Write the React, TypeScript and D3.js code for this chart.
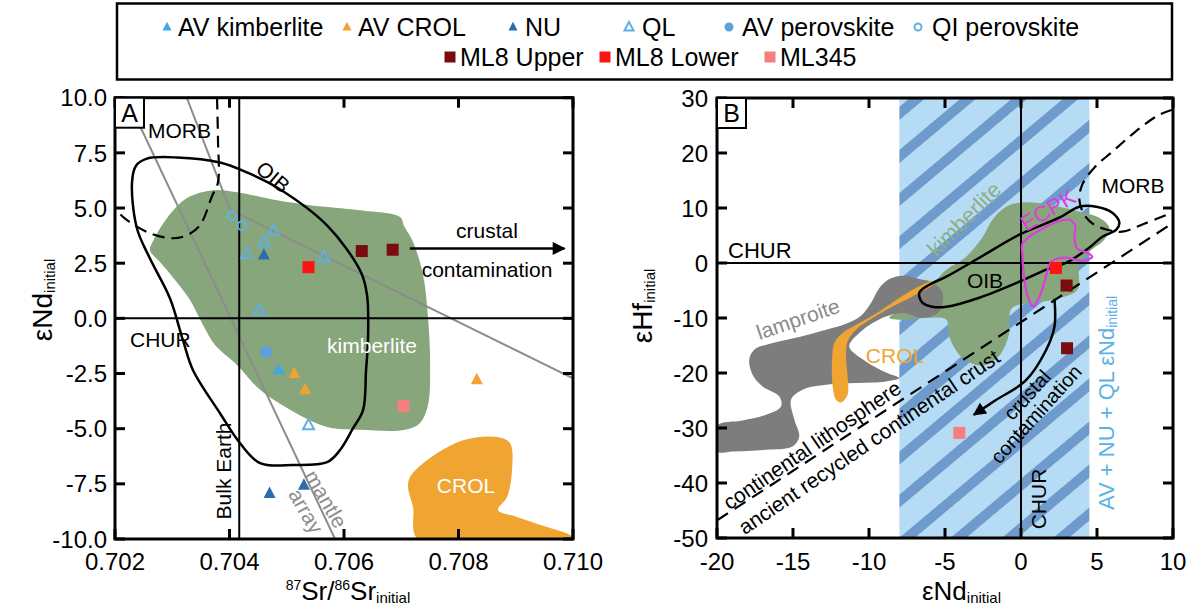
import React from "react";
import * as d3 from "d3";

type P = [number, number];

// ---------------- Panel A (87Sr/86Sr vs eNd) ----------------
const srTicks = [0.702, 0.704, 0.706, 0.708, 0.71];
const ndTicksA = [10, 7.5, 5, 2.5, 0, -2.5, -5, -7.5, -10];
const bulkEarthSr = 0.70417;
const churNdA = 0;

const avKimberliteA: P[] = [[0.70486, -2.33]];
const avCrolA: P[] = [[0.70513, -2.5], [0.70532, -3.23], [0.70832, -2.78]];
const nuA: P[] = [[0.7046, 2.87], [0.7047, -7.93], [0.7053, -7.56]];
const qlA: P[] = [[0.70477, 3.98], [0.7046, 3.45], [0.7043, 2.93], [0.70565, 2.77], [0.70452, 0.36], [0.70538, -4.84]];
const avPerovskiteA: P[] = [[0.70464, -1.52]];
const qiPerovskiteA: P[] = [[0.70404, 4.66], [0.70422, 4.2]];
const ml8UpperA: P[] = [[0.70631, 3.05], [0.70685, 3.11]];
const ml8LowerA: P[] = [[0.70538, 2.32]];
const ml345A: P[] = [[0.70704, -3.98]];

const kimberliteFieldA: P[] = [
  [0.702611, 3.09], [0.702664, 3.5], [0.702908, 4.54], [0.703258, 5.45], [0.703712, 5.81],
  [0.704131, 5.72], [0.70483, 5.35], [0.705407, 5.13], [0.70628, 4.9], [0.706979, 4.59],
  [0.707049, 4.18], [0.707206, 3.46], [0.707381, 1.96], [0.707468, 0.02], [0.707503, -1.88],
  [0.707468, -3.92], [0.707328, -4.74], [0.707066, -5.05], [0.70628, -5.05], [0.705704, -4.92],
  [0.705057, -4.14], [0.704533, -3.24], [0.704131, -2.11], [0.703747, -1.21], [0.703537, -0.3],
  [0.70331, 0.83], [0.703048, 1.74], [0.702786, 2.55],
];
const crolFieldA: P[] = [
  [0.707153, -7.19], [0.70745, -6.43], [0.708079, -5.52], [0.708673, -5.38], [0.7089, -5.66],
  [0.708935, -6.88], [0.708848, -8.1], [0.70869, -8.69], [0.709022, -9.0], [0.709546, -9.46],
  [0.709948, -9.82], [0.71, -10], [0.707293, -10], [0.707206, -8.55], [0.707119, -7.65],
];
const oibFieldA: P[] = [
  [0.702559, 7.24], [0.703083, 7.29], [0.703834, 7.06], [0.704306, 6.61], [0.70483, 5.93],
  [0.705704, 4.21], [0.706298, 2.08], [0.706403, 1.04], [0.70642, -0.9], [0.706385, -2.35],
  [0.706333, -4.16], [0.706158, -4.98], [0.705931, -5.97], [0.705704, -6.52], [0.70511, -6.65],
  [0.704533, -6.56], [0.704184, -5.66], [0.703834, -4.3], [0.703363, -2.35], [0.703188, -1.0],
  [0.702961, 0.9], [0.702611, 2.71], [0.702384, 4.07], [0.702297, 6.15], [0.702367, 6.92],
];
const morbFieldA: P[] = [
  [0.703782, 10], [0.703799, 8.07], [0.703799, 6.17], [0.703695, 5.54], [0.703485, 4.22],
  [0.703258, 3.77], [0.703013, 3.63], [0.702611, 3.86], [0.70221, 4.45], [0.702017, 4.9],
];
const mantleArrayLine1: P[] = [[0.702203, 10], [0.705843, -10]];
const mantleArrayLine2: P[] = [[0.703253, 10], [0.704009, 4.93], [0.71, -2.72]];
const crustalArrowA: P[] = [[0.70715, 3.17], [0.70985, 3.17]];

// ---------------- Panel B (eNd vs eHf) ----------------
const ndTicksB = [-20, -15, -10, -5, 0, 5, 10];
const hfTicks = [30, 20, 10, 0, -10, -20, -30, -40, -50];
const avNdRange: P = [-8.0, 4.5];

const ml8UpperB: P[] = [[3.0, -4.1], [3.03, -15.5]];
const ml8LowerB: P[] = [[2.3, -0.9]];
const ml345B: P[] = [[-4.06, -30.9]];

const lamproiteField: P[] = [
  [-20, -29.58], [-18.32, -28.62], [-16.78, -27.58], [-15.79, -26.07], [-15.9, -24.25],
  [-17.0, -22.44], [-17.66, -20.31], [-17.88, -17.58], [-17.55, -15.76], [-16.34, -14.55],
  [-14.59, -13.45], [-12.83, -12.13], [-11.51, -11.04], [-10.53, -9.58], [-9.87, -7.27],
  [-9.32, -4.55], [-8.66, -2.91], [-7.79, -2.31], [-6.69, -2.91], [-5.82, -3.53],
  [-5.16, -5.45], [-5.38, -8.8], [-6.47, -10.0], [-7.79, -9.09], [-8.88, -9.71],
  [-9.76, -10.91], [-10.64, -12.73], [-11.3, -15.16], [-10.2, -17.89], [-8.88, -19.89],
  [-8.01, -20.91], [-8.88, -21.53], [-10.86, -21.82], [-12.83, -22.13], [-14.37, -23.04],
  [-15.13, -24.85], [-14.91, -28.49], [-14.59, -31.53], [-15.03, -33.35], [-16.78, -33.95],
  [-18.97, -34.25], [-20, -34.25],
];
const crolFieldB: P[] = [
  [-12.17, -24.85], [-12.39, -22.44], [-12.43, -17.58], [-12.28, -14.55], [-11.74, -12.73],
  [-10.64, -10.91], [-9.32, -8.8], [-8.01, -6.36], [-6.91, -4.55], [-5.82, -3.22],
  [-5.7, -3.64], [-7.13, -6.07], [-8.45, -7.89], [-9.76, -10.0], [-10.86, -12.13],
  [-11.41, -14.25], [-11.51, -16.98], [-11.41, -20.62], [-11.41, -23.95], [-11.84, -25.35],
];
const kimberliteFieldB: P[] = [
  [-8.66, -9.95], [-7.35, -7.58], [-5.7, -3.4], [-4.91, -1.22], [-3.75, 0.8], [-2.62, 4.3],
  [-1.82, 8.1], [-0.97, 10.24], [-0.11, 10.96], [1.01, 10.96], [2.52, 10.24], [3.84, 9.33],
  [5.15, 8.24], [5.81, 6.42], [5.48, 4.24], [4.49, 2.05], [3.84, -0.31], [3.71, -4.85],
  [2.06, -6.67], [-0.57, -8.13], [-0.77, -10.31], [-0.77, -12.67], [-1.43, -16.85],
  [-2.61, -18.67], [-3.93, -17.05], [-4.72, -13.4], [-4.91, -10.31], [-6.03, -9.95], [-8.01, -10.31],
];
const oibFieldB: P[] = [
  [-6.69, -5.4], [-6.49, -7.22], [-5.84, -7.95], [-4.91, -7.95], [-2.74, -6.31], [-0.11, -3.4],
  [1.66, -1.22], [2.98, 0.05], [4.49, 2.78], [5.35, 4.78], [6.27, 6.05], [6.47, 7.33],
  [6.01, 9.15], [4.95, 10.24], [3.84, 10.24], [2.52, 8.24], [-0.11, 5.15], [-2.74, 0.96],
  [-4.91, -2.49], [-6.03, -3.95],
];
const ecpkField: P[] = [
  [0.09, 3.51], [0.74, 5.15], [1.53, 6.42], [2.39, 7.51], [3.18, 7.87], [3.57, 6.78],
  [3.51, 4.6], [3.7, 2.6], [4.36, 1.87], [4.69, 1.15], [4.16, 0.42], [2.85, 0.96],
  [1.99, 0.24], [1.66, -2.31], [1.27, -5.76], [0.81, -7.95], [0.41, -5.76], [0.15, -1.22], [0.09, 1.51],
];
const morbFieldB: P[] = [
  [9.95, 27.87], [9.1, 26.96], [8.11, 25.15], [7.13, 22.96], [6.01, 20.24], [4.82, 17.33],
  [4.03, 14.24], [3.84, 11.51], [4.16, 8.78], [4.82, 6.96], [5.68, 6.05], [6.66, 5.69],
  [8.11, 7.15], [9.95, 9.15],
];
const lithosphereLine: P[] = [[-20, -46.8], [10, 7.3]];
const crustalArrowB: P[] = [[2.2, -6.5], [2.2, -11.6], [1.62, -16.0], [0.3, -21.4], [-1.7, -25.0], [-3.1, -27.6]];

const legendRow1 = ["AV kimberlite", "AV CROL", "NU", "QL", "AV perovskite", "QI perovskite"];
const legendRow2 = ["ML8 Upper", "ML8 Lower", "ML345"];

const FONT = "'Liberation Sans', Arial, sans-serif";
const C = {
  avKimb: "#3fa9e3",
  avCrol: "#f0a331",
  nu: "#2c6db0",
  ql: "#5fb0e2",
  avPerov: "#5aa2da",
  qiPerov: "#64b0e2",
  ml8U: "#7a0b0e",
  ml8L: "#fb1414",
  ml345: "#f37f7f",
  green: "#87a67b",
  orange: "#f0a431",
  gray: "#7d7d7d",
  band: "#b5dcf4",
  stripe: "#6e9bcb",
  magenta: "#dd3ddd",
  mantle: "#8c8c8c",
};

type Kind = "tri" | "triO" | "circ" | "circO" | "sq";

function Mark({ kind, x, y, s, color }: { kind: Kind; x: number; y: number; s: number; color: string }) {
  const h = s * 0.95;
  if (kind === "tri" || kind === "triO") {
    const d = `M${x},${y - h * 0.6}L${x + s / 2},${y + h * 0.4}L${x - s / 2},${y + h * 0.4}Z`;
    return kind === "tri" ? <path d={d} fill={color} /> : <path d={d} fill="none" stroke={color} strokeWidth={2} />;
  }
  if (kind === "circ") return <circle cx={x} cy={y} r={s / 2} fill={color} />;
  if (kind === "circO") return <circle cx={x} cy={y} r={s / 2 - 1} fill="none" stroke={color} strokeWidth={2} />;
  return <rect x={x - s / 2} y={y - s / 2} width={s} height={s} fill={color} />;
}

export default function App() {
  const xA = d3.scaleLinear().domain([0.702, 0.71]).range([115, 573]);
  const yA = d3.scaleLinear().domain([-10, 10]).range([539, 97.7]);
  const xB = d3.scaleLinear().domain([-20, 10]).range([717, 1173]);
  const yB = d3.scaleLinear().domain([-50, 30]).range([538, 98]);

  const closedA = d3.line<P>().x((d) => xA(d[0])).y((d) => yA(d[1])).curve(d3.curveCatmullRomClosed.alpha(0.5));
  const smoothA = d3.line<P>().x((d) => xA(d[0])).y((d) => yA(d[1])).curve(d3.curveCatmullRom.alpha(0.5));
  const linA = d3.line<P>().x((d) => xA(d[0])).y((d) => yA(d[1]));
  const closedB = d3.line<P>().x((d) => xB(d[0])).y((d) => yB(d[1])).curve(d3.curveCatmullRomClosed.alpha(0.5));
  const smoothB = d3.line<P>().x((d) => xB(d[0])).y((d) => yB(d[1])).curve(d3.curveCatmullRom.alpha(0.5));
  const linB = d3.line<P>().x((d) => xB(d[0])).y((d) => yB(d[1]));

  const fmtA = (v: number) => d3.format(".1f")(v).replace("\u2212", "-");
  const fmtSr = (v: number) => d3.format(".3f")(v);
  const fmtB = (v: number) => String(v);

  const seriesA: { pts: P[]; kind: Kind; color: string; s: number }[] = [
    { pts: avKimberliteA, kind: "tri", color: C.avKimb, s: 12 },
    { pts: avCrolA, kind: "tri", color: C.avCrol, s: 12 },
    { pts: nuA, kind: "tri", color: C.nu, s: 12 },
    { pts: qlA, kind: "triO", color: C.ql, s: 11 },
    { pts: avPerovskiteA, kind: "circ", color: C.avPerov, s: 12 },
    { pts: qiPerovskiteA, kind: "circO", color: C.qiPerov, s: 11 },
    { pts: ml8UpperA, kind: "sq", color: C.ml8U, s: 12 },
    { pts: ml8LowerA, kind: "sq", color: C.ml8L, s: 12 },
    { pts: ml345A, kind: "sq", color: C.ml345, s: 12 },
  ];
  const seriesB: { pts: P[]; kind: Kind; color: string; s: number }[] = [
    { pts: ml8UpperB, kind: "sq", color: C.ml8U, s: 12 },
    { pts: ml8LowerB, kind: "sq", color: C.ml8L, s: 12 },
    { pts: ml345B, kind: "sq", color: C.ml345, s: 12 },
  ];

  const legend1Style: { kind: Kind; color: string; mx: number; tx: number }[] = [
    { kind: "tri", color: C.avKimb, mx: 167, tx: 178 },
    { kind: "tri", color: C.avCrol, mx: 347, tx: 358 },
    { kind: "tri", color: C.nu, mx: 513, tx: 525 },
    { kind: "triO", color: C.ql, mx: 629, tx: 642 },
    { kind: "circ", color: C.avPerov, mx: 729, tx: 742 },
    { kind: "circO", color: C.qiPerov, mx: 918, tx: 932 },
  ];
  const legend2Style: { kind: Kind; color: string; mx: number; tx: number }[] = [
    { kind: "sq", color: C.ml8U, mx: 450, tx: 460 },
    { kind: "sq", color: C.ml8L, mx: 605, tx: 615 },
    { kind: "sq", color: C.ml345, mx: 770, tx: 780 },
  ];

  const axA = { l: 115, r: 573, t: 97.7, b: 539 };
  const axB = { l: 717, r: 1173, t: 98, b: 538 };
  const TL = 10;

  return (
    <svg
      width={1192}
      height={605}
      style={{ position: "absolute", left: 0, top: 0, background: "#fff" }}
      fontFamily={FONT}
    >
      <defs>
        <clipPath id="clipA">
          <rect x={axA.l} y={axA.t} width={axA.r - axA.l} height={axA.b - axA.t} />
        </clipPath>
        <clipPath id="clipB">
          <rect x={axB.l} y={axB.t} width={axB.r - axB.l} height={axB.b - axB.t} />
        </clipPath>
        <pattern id="hatch" patternUnits="userSpaceOnUse" width={60} height={33} patternTransform="rotate(-40)">
          <rect width={60} height={33} fill={C.band} />
          <rect width={60} height={10} fill={C.stripe} />
        </pattern>
        <marker id="arrowHead" viewBox="0 0 10 10" refX={9} refY={5} markerWidth={18} markerHeight={13} markerUnits="userSpaceOnUse" orient="auto">
          <path d="M0,0L10,5L0,10Z" fill="#000" />
        </marker>
      </defs>

      {/* Legend */}
      <rect x={117} y={3.5} width={1055} height={76} fill="#fff" stroke="#000" strokeWidth={2.5} />
      {legendRow1.map((lab, i) => (
        <g key={lab}>
          <Mark kind={legend1Style[i].kind} x={legend1Style[i].mx} y={27} s={9} color={legend1Style[i].color} />
          <text x={legend1Style[i].tx} y={36} fontSize={25}>{lab}</text>
        </g>
      ))}
      {legendRow2.map((lab, i) => (
        <g key={lab}>
          <Mark kind={legend2Style[i].kind} x={legend2Style[i].mx} y={57} s={11} color={legend2Style[i].color} />
          <text x={legend2Style[i].tx} y={66} fontSize={25}>{lab}</text>
        </g>
      ))}

      {/* ---------------- Panel A ---------------- */}
      <g clipPath="url(#clipA)">
        <path d={closedA(kimberliteFieldA) || ""} fill={C.green} />
        <path d={closedA(crolFieldA) || ""} fill={C.orange} />
        <path d={linA(mantleArrayLine1) || ""} fill="none" stroke={C.mantle} strokeWidth={2} />
        <path d={linA(mantleArrayLine2) || ""} fill="none" stroke={C.mantle} strokeWidth={2} />
        <path d={closedA(oibFieldA) || ""} fill="none" stroke="#000" strokeWidth={2.5} />
        <path d={smoothA(morbFieldA) || ""} fill="none" stroke="#000" strokeWidth={2.2} strokeDasharray="12 7" />
        <line x1={xA(bulkEarthSr)} x2={xA(bulkEarthSr)} y1={axA.t} y2={axA.b} stroke="#000" strokeWidth={2} />
        <line x1={axA.l} x2={axA.r} y1={yA(churNdA)} y2={yA(churNdA)} stroke="#000" strokeWidth={2} />
        <path d={linA(crustalArrowA) || ""} stroke="#000" strokeWidth={2.5} markerEnd="url(#arrowHead)" />
        {seriesA.map((s, i) =>
          s.pts.map((p, j) => <Mark key={`${i}-${j}`} kind={s.kind} x={xA(p[0])} y={yA(p[1])} s={s.s} color={s.color} />)
        )}
      </g>
      {/* labels A */}
      <text x={148} y={138} fontSize={21}>MORB</text>
      <text transform="translate(273,177) rotate(40)" textAnchor="middle" dy="0.35em" fontSize={21}>OIB</text>
      <text x={130} y={347} fontSize={21}>CHUR</text>
      <text x={372} y={353} fontSize={21} fill="#fff" textAnchor="middle">kimberlite</text>
      <text x={466} y={493} fontSize={21} fill="#fff" textAnchor="middle">CROL</text>
      <text x={487} y={238} fontSize={21} textAnchor="middle">crustal</text>
      <text x={487} y={277} fontSize={21} textAnchor="middle">contamination</text>
      <text transform="translate(231,471) rotate(-90)" textAnchor="middle" fontSize={21}>Bulk Earth</text>
      <text transform="translate(326,499) rotate(60)" textAnchor="middle" dy="0.35em" fontSize={21} fill={C.mantle}>mantle</text>
      <text transform="translate(306,511) rotate(60)" textAnchor="middle" dy="0.35em" fontSize={21} fill={C.mantle}>array</text>

      {/* axes A */}
      <rect x={axA.l} y={axA.t} width={axA.r - axA.l} height={axA.b - axA.t} fill="none" stroke="#000" strokeWidth={3} />
      {srTicks.map((v) => (
        <g key={`sx${v}`}>
          <line x1={xA(v)} x2={xA(v)} y1={axA.b} y2={axA.b - TL} stroke="#000" strokeWidth={3} />
          <line x1={xA(v)} x2={xA(v)} y1={axA.t} y2={axA.t + TL} stroke="#000" strokeWidth={3} />
          <text x={xA(v)} y={570} textAnchor="middle" fontSize={24}>{fmtSr(v)}</text>
        </g>
      ))}
      {ndTicksA.map((v) => (
        <g key={`ny${v}`}>
          <line x1={axA.l} x2={axA.l + TL} y1={yA(v)} y2={yA(v)} stroke="#000" strokeWidth={3} />
          <line x1={axA.r} x2={axA.r - TL} y1={yA(v)} y2={yA(v)} stroke="#000" strokeWidth={3} />
          <text x={107} y={yA(v)} dy="0.36em" textAnchor="end" fontSize={24}>{fmtA(v)}</text>
        </g>
      ))}
      <rect x={115} y={97.7} width={29} height={30} fill="#fff" stroke="#000" strokeWidth={2} />
      <text x={129.5} y={122} textAnchor="middle" fontSize={25}>A</text>
      <text x={348} y={600} textAnchor="middle" fontSize={26}>
        <tspan fontSize={14} dy={-10}>87</tspan>
        <tspan dy={10}>Sr/</tspan>
        <tspan fontSize={14} dy={-10}>86</tspan>
        <tspan dy={10}>Sr</tspan>
        <tspan fontSize={15} dy={3}>initial</tspan>
      </text>
      <text transform="translate(52,300) rotate(-90)" textAnchor="middle" fontSize={28}>
        <tspan>εNd</tspan>
        <tspan fontSize={15} dy={3}>initial</tspan>
      </text>

      {/* ---------------- Panel B ---------------- */}
      <g clipPath="url(#clipB)">
        <rect x={xB(avNdRange[0])} y={axB.t} width={xB(avNdRange[1]) - xB(avNdRange[0])} height={axB.b - axB.t} fill="url(#hatch)" />
        <path d={closedB(kimberliteFieldB) || ""} fill={C.green} />
        <path d={closedB(lamproiteField) || ""} fill={C.gray} />
        <path d={closedB(crolFieldB) || ""} fill={C.orange} />
        <line x1={axB.l} x2={axB.r} y1={yB(0)} y2={yB(0)} stroke="#000" strokeWidth={2} />
        <line x1={xB(0)} x2={xB(0)} y1={axB.t} y2={axB.b} stroke="#000" strokeWidth={2} />
        <path d={closedB(oibFieldB) || ""} fill="none" stroke="#000" strokeWidth={2.5} />
        <path d={closedB(ecpkField) || ""} fill="none" stroke={C.magenta} strokeWidth={2.2} />
        <path d={smoothB(morbFieldB) || ""} fill="none" stroke="#000" strokeWidth={2.2} strokeDasharray="12 7" />
        <path d={linB(lithosphereLine) || ""} fill="none" stroke="#000" strokeWidth={2.2} strokeDasharray="13 8" />
        <path d={smoothB(crustalArrowB) || ""} fill="none" stroke="#000" strokeWidth={2.5} markerEnd="url(#arrowHead)" />
        {seriesB.map((s, i) =>
          s.pts.map((p, j) => <Mark key={`b${i}-${j}`} kind={s.kind} x={xB(p[0])} y={yB(p[1])} s={s.s} color={s.color} />)
        )}
      </g>
      {/* labels B */}
      <text x={728} y={258} fontSize={22}>CHUR</text>
      <text transform="translate(1046,499) rotate(-90)" textAnchor="middle" fontSize={21}>CHUR</text>
      <text transform="translate(798,319) rotate(-19)" textAnchor="middle" dy="0.35em" fontSize={21} fill="#8a8a8a">lamproite</text>
      <text x={895} y={363} textAnchor="middle" fontSize={21} fill={C.orange}>CROL</text>
      <text transform="translate(964,219) rotate(-45)" textAnchor="middle" dy="0.35em" fontSize={22} fill="#8fae84">kimberlite</text>
      <text x={985} y={288} textAnchor="middle" fontSize={21}>OIB</text>
      <text transform="translate(1048,210) rotate(-31)" textAnchor="middle" dy="0.35em" fontSize={22} fill={C.magenta}>ECPK</text>
      <text x={1133} y={193} textAnchor="middle" fontSize={21}>MORB</text>
      <text transform="translate(812,445) rotate(-34.5)" textAnchor="middle" dy="0.35em" fontSize={21}>continental lithosphere</text>
      <text transform="translate(869,442) rotate(-34.2)" textAnchor="middle" dy="0.35em" fontSize={21}>ancient recycled continental crust</text>
      <text transform="translate(1027,395) rotate(-48)" textAnchor="middle" dy="0.35em" fontSize={20}>crustal</text>
      <text transform="translate(1036,414) rotate(-48)" textAnchor="middle" dy="0.35em" fontSize={20}>contamination</text>
      <text transform="translate(1114,510) rotate(-90)" fontSize={22} fill="#5ab2e6">
        <tspan>AV + NU + QL εNd</tspan>
        <tspan fontSize={14} dy={3}>initial</tspan>
      </text>

      {/* axes B */}
      <rect x={axB.l} y={axB.t} width={axB.r - axB.l} height={axB.b - axB.t} fill="none" stroke="#000" strokeWidth={3} />
      {ndTicksB.map((v) => (
        <g key={`bx${v}`}>
          <line x1={xB(v)} x2={xB(v)} y1={axB.b} y2={axB.b - TL} stroke="#000" strokeWidth={3} />
          <line x1={xB(v)} x2={xB(v)} y1={axB.t} y2={axB.t + TL} stroke="#000" strokeWidth={3} />
          <text x={xB(v)} y={570} textAnchor="middle" fontSize={24}>{fmtB(v)}</text>
        </g>
      ))}
      {hfTicks.map((v) => (
        <g key={`by${v}`}>
          <line x1={axB.l} x2={axB.l + TL} y1={yB(v)} y2={yB(v)} stroke="#000" strokeWidth={3} />
          <line x1={axB.r} x2={axB.r - TL} y1={yB(v)} y2={yB(v)} stroke="#000" strokeWidth={3} />
          <text x={708} y={yB(v)} dy="0.36em" textAnchor="end" fontSize={24}>{fmtB(v)}</text>
        </g>
      ))}
      <rect x={717} y={98} width={29} height={30} fill="#fff" stroke="#000" strokeWidth={2} />
      <text x={731.5} y={122} textAnchor="middle" fontSize={25}>B</text>
      <text x={922} y={600} fontSize={26}>
        <tspan>εNd</tspan>
        <tspan fontSize={15} dy={3}>initial</tspan>
      </text>
      <text transform="translate(652,306) rotate(-90)" textAnchor="middle" fontSize={28}>
        <tspan>εHf</tspan>
        <tspan fontSize={15} dy={3}>initial</tspan>
      </text>
    </svg>
  );
}
